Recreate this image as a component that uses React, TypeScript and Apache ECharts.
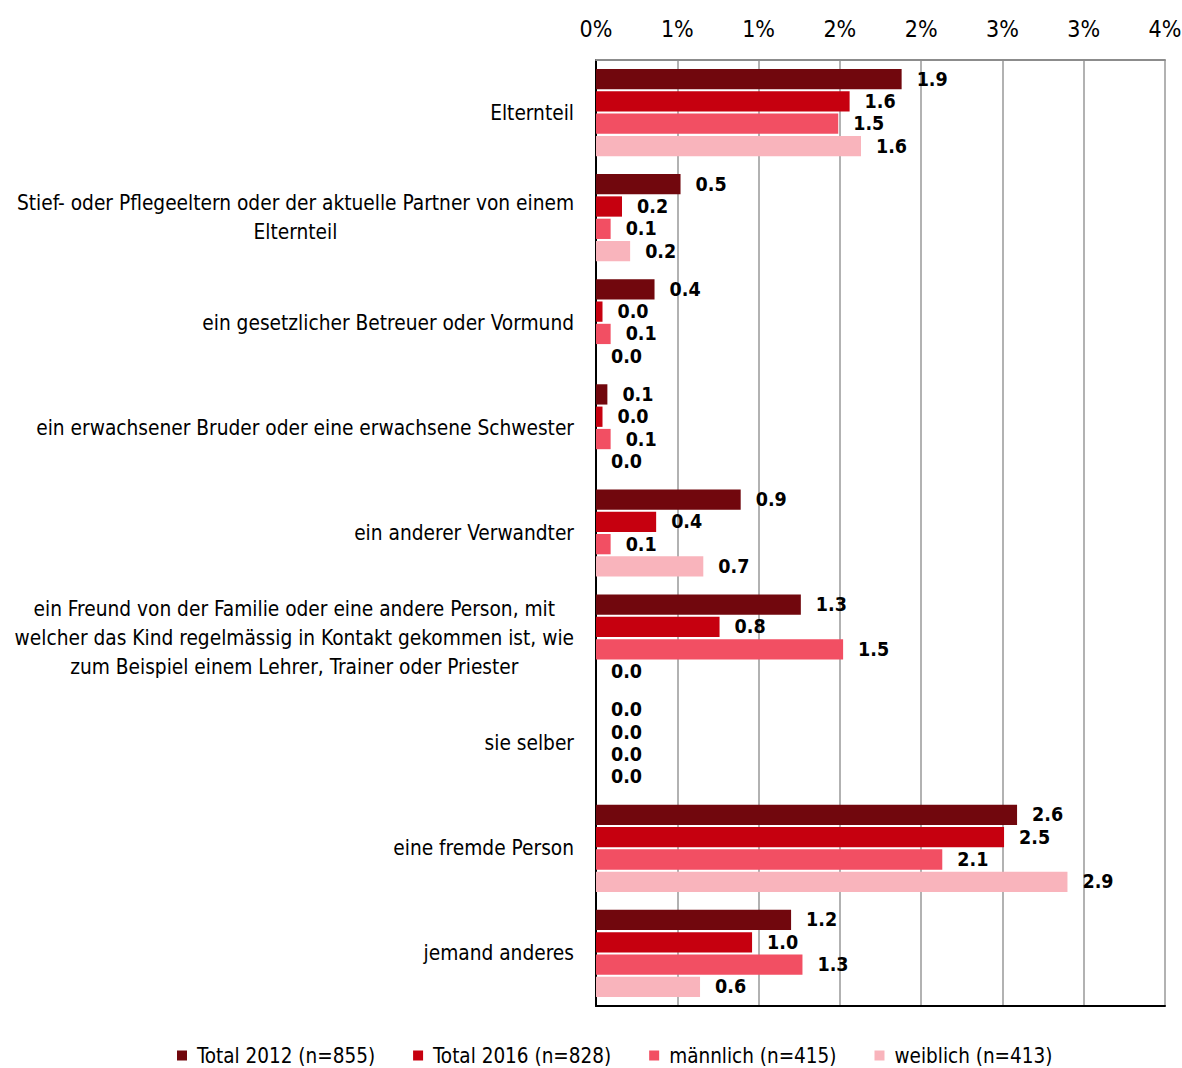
import React, { useEffect, useRef } from "react";
import * as echarts from "echarts";

const categories = [
  "Elternteil",
  "Stief- oder Pflegeeltern oder der aktuelle Partner von einem\nElternteil",
  "ein gesetzlicher Betreuer oder Vormund",
  "ein erwachsener Bruder oder eine erwachsene Schwester",
  "ein anderer Verwandter",
  "ein Freund von der Familie oder eine andere Person, mit\nwelcher das Kind regelmässig in Kontakt gekommen ist, wie\nzum Beispiel einem Lehrer, Trainer oder Priester",
  "sie selber",
  "eine fremde Person",
  "jemand anderes",
];
const seriesNames = ["Total 2012 (n=855)", "Total 2016 (n=828)", "männlich (n=415)", "weiblich (n=413)"];
const total2012 = [1.88, 0.52, 0.36, 0.07, 0.89, 1.26, 0, 2.59, 1.2];
const total2016 = [1.56, 0.16, 0.04, 0.04, 0.37, 0.76, 0, 2.51, 0.96];
const maennlich = [1.49, 0.09, 0.09, 0.09, 0.09, 1.52, 0, 2.13, 1.27];
const weiblich = [1.63, 0.21, 0, 0, 0.66, 0, 0, 2.9, 0.64];
const tickLabels = ["0%", "1%", "1%", "2%", "2%", "3%", "3%", "4%"];
const colors = ["#71070D", "#C6000F", "#F24F63", "#F9B4BC"];

const FONT = "'Liberation Sans Narrow', 'Arial Narrow', 'DejaVu Sans Condensed', sans-serif";

export default function App() {
  const ref = useRef<HTMLDivElement>(null);
  useEffect(() => {
    document.body.style.margin = "0";
    if (!ref.current) return;
    const chart = echarts.init(ref.current, null, { renderer: "svg" });
    const seriesData = [total2012, total2016, maennlich, weiblich];
    chart.setOption({
      animation: false,
      textStyle: { fontFamily: FONT },
      grid: { left: 596, right: 17, top: 60, bottom: 62, containLabel: false, outerBoundsMode: "none" },
      legend: {
        data: seriesNames,
        top: 1040,
        left: 172,
        icon: "rect",
        itemWidth: 10,
        itemHeight: 10,
        itemGap: 38,
        textStyle: { fontFamily: FONT, fontSize: 20.5, color: "#000", padding: [0, 0, 0, 5] },
      },
      xAxis: [
        {
          type: "value",
          position: "top",
          min: 0,
          max: 3.5,
          interval: 0.5,
          axisLine: { show: true, lineStyle: { color: "#8C8C8C", width: 2 } },
          axisTick: { show: false },
          splitLine: { show: true, lineStyle: { color: "#999999", width: 1.5 } },
          axisLabel: {
            margin: 20,
            fontSize: 23,
            color: "#000",
            fontFamily: FONT,
            formatter: (v: number) => tickLabels[Math.round(v / 0.5)],
          },
        },
        {
          type: "value",
          position: "bottom",
          min: 0,
          max: 3.5,
          interval: 0.5,
          axisLine: { show: true, lineStyle: { color: "#000", width: 2 } },
          axisTick: { show: false },
          splitLine: { show: false },
          axisLabel: { show: false },
        },
      ],
      yAxis: [
        {
          type: "category",
          data: categories,
          inverse: true,
          axisLine: { show: true, lineStyle: { color: "#8C8C8C", width: 2 } },
          axisTick: { show: false },
          axisLabel: {
            margin: 22,
            align: "right",
            fontSize: 20.7,
            lineHeight: 29,
            color: "#000",
            fontFamily: FONT,
            formatter: (v: string) => v.split("\n").map((l) => `{c|${l}}`).join("\n"),
            rich: {
              c: { align: "center", fontSize: 20.7, lineHeight: 29, color: "#000", fontFamily: FONT },
            },
          },
        },
        {
          type: "category",
          data: categories,
          inverse: true,
          position: "right",
          axisLine: { show: true, lineStyle: { color: "#000", width: 2 } },
          axisTick: { show: false },
          axisLabel: { show: false },
        },
      ],
      series: seriesNames.map((name, i) => ({
        name,
        type: "bar",
        xAxisIndex: 0,
        yAxisIndex: 0,
        data: seriesData[i],
        itemStyle: { color: colors[i] },
        barGap: "10%",
        barCategoryGap: "17%",
        label: {
          show: true,
          position: "right",
          distance: 15,
          fontFamily: FONT,
          fontWeight: "bold",
          fontSize: 19.5,
          color: "#000",
          formatter: (p: any) => Number(p.value).toFixed(1),
        },
      })),
    });
    return () => chart.dispose();
  }, []);
  return <div ref={ref} style={{ width: 1182, height: 1068 }} />;
}
